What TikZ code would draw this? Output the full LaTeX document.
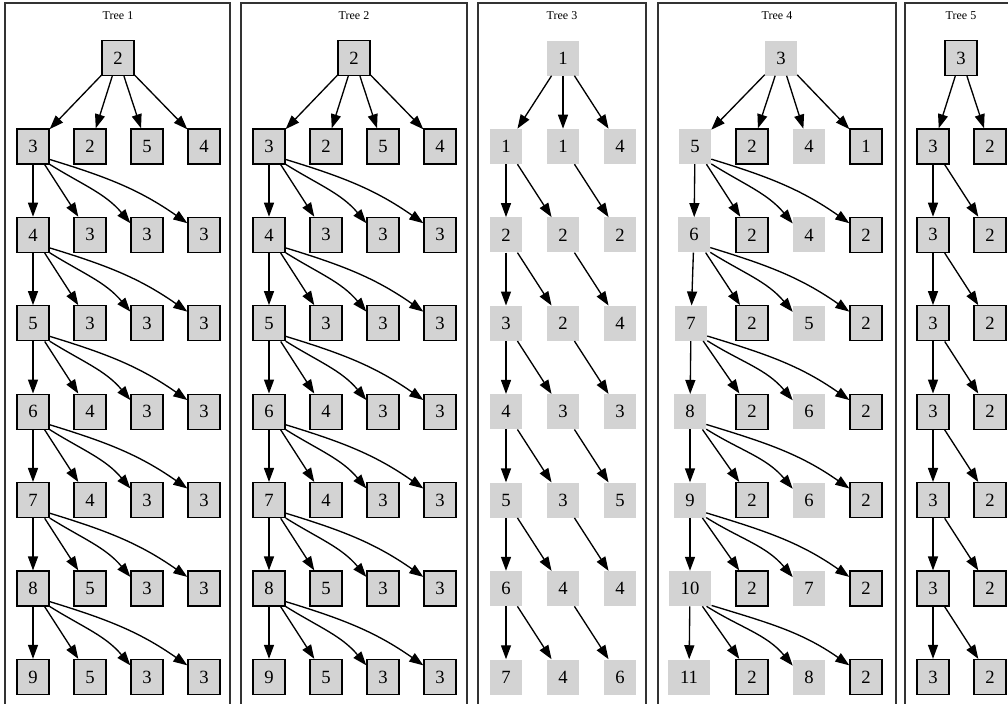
\documentclass[tikz,border=0pt]{standalone}
\usepackage{fontspec}
\setmainfont{Liberation Serif}
\usetikzlibrary{arrows.meta}
\definecolor{gvgray}{HTML}{D3D3D3}
\definecolor{framec}{HTML}{333333}
\begin{document}
\begin{tikzpicture}[x=0.75pt,y=0.75pt,
  box/.style={fill=gvgray, minimum width=24pt, minimum height=26.25pt, inner sep=0pt, font=\fontsize{14}{16}\selectfont},
  nb/.style={box, draw=black, line width=1pt},
  nn/.style={box},
  std/.style={},
  wide/.style={minimum width=32pt},
  e/.style={-{Triangle[length=10.5pt,width=7.5pt]}, line width=1pt},
  frame/.style={draw=framec, line width=1pt},
  title/.style={font=\fontsize{9}{10}\selectfont, anchor=base}]
\useasboundingbox (0,0) rectangle (1008,-704);
\clip (0,0) rectangle (1008,-704);

% cluster frames
\draw[frame] (5,-710) |- (230,-3) -- (230,-710);
\draw[frame] (241,-710) |- (467,-3) -- (467,-710);
\draw[frame] (478,-710) |- (646,-3) -- (646,-710);
\draw[frame] (658,-710) |- (896,-3) -- (896,-710);
\draw[frame] (905,-710) |- (1030,-3) -- (1030,-710);

% titles
\node[title] (t1) at (118,-19.5) {Tree 1};
\node[title] (t2) at (354,-19.5) {Tree 2};
\node[title] (t3) at (562,-19.5) {Tree 3};
\node[title] (t4) at (777,-19.5) {Tree 4};
\node[title] (t5) at (961,-19.5) {Tree 5};

% ---------- Tree 1 and Tree 2 ----------
\node[nb] (A1) at (118,-58) {2};
\node[nb] (B1) at (354,-58) {2};
\foreach \r/\a/\b/\c/\d in {2/3/2/5/4,3/4/3/3/3,4/5/3/3/3,5/6/4/3/3,6/7/4/3/3,7/8/5/3/3,8/9/5/3/3}{
  \pgfmathsetmacro{\yy}{-(58+88.43*(\r-1))}
  \node[nb] (A\r-1) at (33,\yy) {\a};
  \node[nb] (A\r-2) at (90,\yy) {\b};
  \node[nb] (A\r-3) at (147,\yy) {\c};
  \node[nb] (A\r-4) at (204,\yy) {\d};
  \node[nb] (B\r-1) at (269,\yy) {\a};
  \node[nb] (B\r-2) at (326,\yy) {\b};
  \node[nb] (B\r-3) at (383,\yy) {\c};
  \node[nb] (B\r-4) at (440,\yy) {\d};
}
\foreach \T in {A,B}{
  \foreach \c in {1,2,3,4}{\draw[e] (\T1) -- (\T2-\c);}
  \foreach \r [evaluate=\r as \p using int(\r-1)] in {3,...,8}{
    \draw[e] (\T\p-1) -- (\T\r-1);
    \draw[e] (\T\p-1) -- (\T\r-2);
    \draw[e] (\T\p-1.-47) to[out=-32,in=130] (\T\r-3.145);
    \draw[e] (\T\p-1.-38) to[out=-17,in=145] (\T\r-4);
  }
}

% ---------- Tree 3 ----------
\node[nn] (C1) at (563,-58) {1};
\foreach \r/\a/\b/\c in {2/1/1/4,3/2/2/2,4/3/2/4,5/4/3/3,6/5/3/5,7/6/4/4,8/7/4/6}{
  \pgfmathsetmacro{\yy}{-(58+88.43*(\r-1))}
  \node[nn] (C\r-1) at (506,\yy) {\a};
  \node[nn] (C\r-2) at (563,\yy) {\b};
  \node[nn] (C\r-3) at (620,\yy) {\c};
}
\foreach \c in {1,2,3}{\draw[e] (C1) -- (C2-\c);}
\foreach \r [evaluate=\r as \p using int(\r-1)] in {3,...,8}{
  \draw[e] (C\p-1) -- (C\r-1);
  \draw[e] (C\p-1) -- (C\r-2);
  \draw[e] (C\p-2) -- (C\r-3);
}

% ---------- Tree 4 ----------
\node[nn] (D1) at (781,-58) {3};
\foreach \r/\x/\a/\b/\c/\d/\w in {2/695/5/2/4/1/std,3/694/6/2/4/2/std,4/691/7/2/5/2/std,5/690/8/2/6/2/std,6/690/9/2/6/2/std,7/690/10/2/7/2/wide,8/689/11/2/8/2/wide}{
  \pgfmathsetmacro{\yy}{-(58+88.43*(\r-1))}
  \node[nn,\w] (D\r-1) at (\x,\yy) {\a};
  \node[nb] (D\r-2) at (752,\yy) {\b};
  \node[nn] (D\r-3) at (809,\yy) {\c};
  \node[nb] (D\r-4) at (866,\yy) {\d};
}
\foreach \c in {1,2,3,4}{\draw[e] (D1) -- (D2-\c);}
\foreach \r [evaluate=\r as \p using int(\r-1)] in {3,...,8}{
  \draw[e] (D\p-1) -- (D\r-1);
  \draw[e] (D\p-1) -- (D\r-2);
  \draw[e] (D\p-1.-47) to[out=-32,in=130] (D\r-3.145);
  \draw[e] (D\p-1.-38) to[out=-17,in=145] (D\r-4);
}

% ---------- Tree 5 ----------
\node[nb] (E1) at (961,-58) {3};
\foreach \r in {2,...,8}{
  \pgfmathsetmacro{\yy}{-(58+88.43*(\r-1))}
  \node[nb] (E\r-1) at (933,\yy) {3};
  \node[nb] (E\r-2) at (990,\yy) {2};
}
\draw[e] (E1) -- (E2-1);
\draw[e] (E1) -- (E2-2);
\foreach \r [evaluate=\r as \p using int(\r-1)] in {3,...,8}{
  \draw[e] (E\p-1) -- (E\r-1);
  \draw[e] (E\p-1) -- (E\r-2);
}
\end{tikzpicture}
\end{document}
